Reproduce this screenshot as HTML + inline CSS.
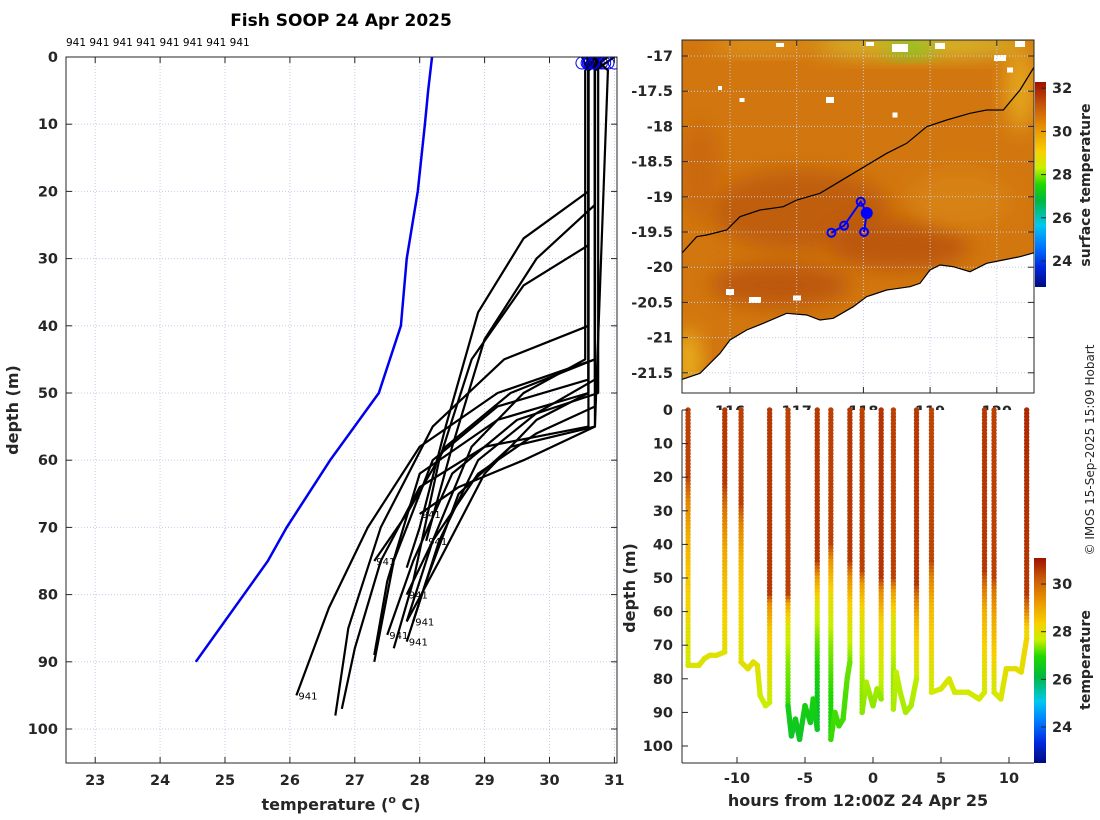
<!DOCTYPE html>
<html><head><meta charset="utf-8">
<style>
html,body{margin:0;padding:0;background:#fff;}
svg{display:block;font-family:"DejaVu Sans","Liberation Sans",sans-serif;}
.tk{font-weight:bold;font-size:14.5px;fill:#262626;}
.lb{font-weight:bold;font-size:16px;fill:#262626;}
</style></head>
<body>
<svg id="fig" width="1100" height="820" viewBox="0 0 1100 820" xmlns="http://www.w3.org/2000/svg">
<defs>
<linearGradient id="cbTop" x1="0" y1="1" x2="0" y2="0">
<stop offset="0" stop-color="#000a80"/><stop offset="0.1" stop-color="#0028e0"/><stop offset="0.2" stop-color="#0078ff"/><stop offset="0.3" stop-color="#00c8f0"/><stop offset="0.42" stop-color="#00b840"/><stop offset="0.5" stop-color="#20d800"/><stop offset="0.58" stop-color="#c8f000"/><stop offset="0.66" stop-color="#f8d000"/><stop offset="0.78" stop-color="#e89000"/><stop offset="0.88" stop-color="#c85a08"/><stop offset="1" stop-color="#a01000"/>
</linearGradient>
<linearGradient id="cbBot" x1="0" y1="1" x2="0" y2="0">
<stop offset="0" stop-color="#000a80"/><stop offset="0.1" stop-color="#0028e0"/><stop offset="0.2" stop-color="#0078ff"/><stop offset="0.3" stop-color="#00c8f0"/><stop offset="0.42" stop-color="#00b840"/><stop offset="0.52" stop-color="#20d800"/><stop offset="0.6" stop-color="#c8f000"/><stop offset="0.68" stop-color="#f8d000"/><stop offset="0.8" stop-color="#e89000"/><stop offset="0.9" stop-color="#c85a08"/><stop offset="1" stop-color="#a01000"/>
</linearGradient>
<clipPath id="mapClip"><rect x="682" y="40" width="352" height="353"/></clipPath>
<clipPath id="leftClip"><rect x="66" y="57" width="551" height="706"/></clipPath>
<filter id="blur" x="-50%" y="-50%" width="200%" height="200%"><feGaussianBlur stdDeviation="10"/></filter>
</defs>
<g id="left"></g>
<g id="map"></g>
<g id="bottom"></g>
<g id="misc"></g>
</svg>
<script>
// ---------- DATA ----------
const climTemps = [28.19,28.13,28.08,27.97,27.8,27.71,27.37,26.62,25.95,25.66,24.55];
const climDepths = [0,5,10,20,30,40,50,60,70,75,90];
const profTemps = [
 [30.6,30.6,29.6,28.9,28.4,28.0,27.8],[30.7,30.7,29.8,29.0,28.5,28.1],
 [30.6,30.6,29.6,28.8,28.3,27.9,27.6],[30.7,30.7,29.4,28.6,28.1,27.8],
 [30.6,30.6,29.0,28.0,27.4,27.0,26.8],[30.7,30.7,29.2,28.0,27.2,26.6,26.1],
 [30.6,30.6,29.3,28.2,27.4,26.9,26.7],[30.7,30.7,29.4,28.4,27.8,27.3],
 [30.6,30.6,29.2,28.2,27.6,27.3],[30.75,30.75,29.5,28.5,27.9,27.5],
 [30.6,30.6,29.2,28.0,27.5,27.3],[30.7,30.7,29.8,28.9,28.2,27.8],
 [30.55,30.55,29.6,28.8,28.2,27.8],[30.7,30.7,29.8,28.9,28.3,27.9],
 [30.6,30.6,29.8,29.0,28.3,27.8],[30.9,30.7,29.6,28.6,28.0]
];
const profDepths = [
 [0,20,27,38,55,70,76],[0,22,30,42,58,72],
 [0,28,34,45,60,78,88],[0,55,58,65,78,87],
 [0,55,58,64,75,88,97],[0,45,50,58,70,82,95],
 [0,40,45,55,70,85,98],[0,45,50,58,68,75],
 [0,48,52,60,75,90],[0,50,54,62,75,86],
 [0,50,54,62,78,89],[0,52,56,62,72,80],
 [0,45,50,58,72,84],[0,48,53,60,72,84],
 [0,50,54,62,75,84],[0,55,60,64,68]
];
const surfTemps = [30.5,30.6,30.62,30.66,30.7,30.75,30.8,30.85,30.62,30.7,30.9,30.66,30.72,31.0,30.58,30.68];
const bottomHours = [
 [-13.6,-12.8,-12.4,-12.0,-11.5,-10.9],
 [-9.7,-9.2,-8.8,-8.5,-8.3,-7.9,-7.6],
 [-6.25,-6.0,-5.7,-5.4,-5.0,-4.6,-4.4,-4.1],
 [-3.1,-2.8,-2.5,-2.2,-1.9,-1.7],
 [-0.8,-0.5,0.0,0.3,0.6],
 [1.5,1.7,2.0,2.4,2.8,3.2],
 [4.3,5.0,5.6,6.0,7.0,7.8,8.2],
 [8.9,9.4,9.8,10.5,10.9,11.3]
];
const bottomDepths = [
 [76,76,74,73,73,72],
 [75,77,75,76,85,88,87],
 [88,97,92,98,88,93,86,95],
 [98,90,94,92,80,75],
 [90,81,88,83,86],
 [89,78,84,90,88,80],
 [84,83,80,84,84,86,84],
 [84,86,77,77,78,68]
];
const trackLon = [117.52,117.71,117.96,118.05,118.01];
const trackLat = [-19.51,-19.41,-19.07,-19.23,-19.50];
const leftXTicks = [23,24,25,26,27,28,29,30,31];
const depthTicks = [0,10,20,30,40,50,60,70,80,90,100];
const latTicks = [-17,-17.5,-18,-18.5,-19,-19.5,-20,-20.5,-21,-21.5];
const lonTicks = [116,117,118,119,120];
const hourTicks = [-10,-5,0,5,10];
const cbTopTicks = [24,26,28,30,32];
const cbBotTicks = [24,26,28,30];

// ---------- SCALES ----------
const X = t => 66 + (t - 22.55) * 64.9;
const Y = d => 57 + d * 6.72;
const LX = lon => 730 + (lon - 116) * 66.7;
const LY = lat => 56 + (-17 - lat) * 70.4;
const HX = h => 873 + h * 13.6;
const HY = d => 410 + d * 3.36;
const cbTopY = t => 261 - (t - 24) * 21.6;
const cbBotY = t => 727 - (t - 24) * 23.83;

const NS = "http://www.w3.org/2000/svg";
function mk(parent, tag, attrs, text) {
  const e = document.createElementNS(NS, tag);
  for (const k in attrs) e.setAttribute(k, attrs[k]);
  if (text !== undefined) e.textContent = text;
  parent.appendChild(e);
  return e;
}
const cmapStops = [[22.5,[0,10,128]],[23.4,[0,40,224]],[24.3,[0,120,255]],[25.1,[0,200,240]],[26.1,[0,184,64]],[26.9,[32,216,0]],[27.7,[200,240,0]],[28.4,[248,208,0]],[29.4,[232,144,0]],[30.3,[200,90,8]],[31.2,[160,16,0]]];
function cmap(t) {
  if (t <= cmapStops[0][0]) return 'rgb(' + cmapStops[0][1] + ')';
  for (let i = 1; i < cmapStops.length; i++) {
    if (t <= cmapStops[i][0]) {
      const a = cmapStops[i-1], b = cmapStops[i];
      const f = (t - a[0]) / (b[0] - a[0]);
      return 'rgb(' + a[1].map((v, j) => Math.round(v + (b[1][j] - v) * f)).join(',') + ')';
    }
  }
  return 'rgb(' + cmapStops[cmapStops.length-1][1] + ')';
}
function profAt(i, d) {
  const ts = profTemps[i], ds = profDepths[i];
  if (d <= ds[0]) return ts[0];
  for (let k = 1; k < ds.length; k++) if (d <= ds[k]) return ts[k-1] + (ts[k]-ts[k-1])*(d-ds[k-1])/(ds[k]-ds[k-1]);
  return ts[ts.length-1];
}

// ---------- LEFT PLOT ----------
const L = document.getElementById('left');
leftXTicks.forEach(t => {
  const g = mk(L, 'line', {x1:X(t), x2:X(t), y1:57, y2:763, stroke:'#c4cbe8', 'stroke-width':1, 'stroke-dasharray':'1,2'});
  
  
  mk(L, 'line', {x1:X(t), x2:X(t), y1:763, y2:757, stroke:'#262626'});
  mk(L, 'line', {x1:X(t), x2:X(t), y1:57, y2:63, stroke:'#262626'});
  const lt = mk(L, 'text', {x:X(t), y:785, 'text-anchor':'middle', class:'tk'}, t);
  
  
});
depthTicks.forEach(d => {
  const g = mk(L, 'line', {x1:66, x2:617, y1:Y(d), y2:Y(d), stroke:'#c4cbe8', 'stroke-width':1, 'stroke-dasharray':'1,2'});
  
  
  mk(L, 'line', {x1:66, x2:72, y1:Y(d), y2:Y(d), stroke:'#262626'});
  mk(L, 'line', {x1:617, x2:611, y1:Y(d), y2:Y(d), stroke:'#262626'});
  const lt = mk(L, 'text', {x:58, y:Y(d)+5, 'text-anchor':'end', class:'tk'}, d);
  
  
});
const LP = mk(L, 'g', {'clip-path':'url(#leftClip)'});


const clim = mk(LP, 'polyline', {points: climDepths.map((d,i)=>X(climTemps[i])+','+Y(d)).join(' '), fill:'none', stroke:'#0000ee', 'stroke-width':2.5});


profTemps.forEach((ts, i) => {
  const ds = profDepths[i];
  const pts = [[surfTemps[i], 0]].concat(ts.map((t,k)=>[t, ds[k] === 0 ? 2 : ds[k]]));
  const pl = mk(LP, 'polyline', {points: pts.map(p=>X(p[0])+','+Y(p[1])).join(' '), fill:'none', stroke:'#000', 'stroke-width':2.2, 'stroke-linejoin':'round'});
  
  
  const c = mk(LP, 'circle', {cx:X(surfTemps[i]), cy:Y(0.9), r:6, fill:'none', stroke:'#0000ff', 'stroke-width':1});
  
  
  if (i % 2 === 1) {
    const last = ts.length-1;
    const tl = mk(L, 'text', {x:X(ts[last])+2, y:Y(ds[last])+4, 'font-size':'10px', fill:'#000'}, '941');
    
    
  }
});
mk(L, 'rect', {x:66, y:57, width:551, height:706, fill:'none', stroke:'#262626', 'stroke-width':1});
const title = mk(L, 'text', {x:341, y:26, 'text-anchor':'middle', 'font-weight':'bold', 'font-size':'17px', fill:'#000'}, 'Fish SOOP 24 Apr 2025');


const ids = mk(L, 'text', {x:66, y:46, 'font-size':'10.5px', fill:'#000'}, '941 941 941 941 941 941 941 941');


const yl = mk(L, 'text', {x:0, y:0, transform:'translate(18,410) rotate(-90)', 'text-anchor':'middle', class:'lb'}, 'depth (m)');


const xl = mk(L, 'text', {x:341, y:810, 'text-anchor':'middle', class:'lb'});


xl.innerHTML = 'temperature (<tspan dy="-7" font-size="11px">o</tspan><tspan dy="7"> C)</tspan>';

// ---------- MAP ----------
const M = document.getElementById('map');
const MG = mk(M, 'g', {'clip-path':'url(#mapClip)'});


mk(MG, 'rect', {x:682, y:40, width:352, height:353, fill:'#d2770f'});
const blobs = [[760,45,50,8,'#e0a020'],[920,45,110,12,'#d8c830'],[910,48,25,8,'#60d020'],[1020,90,14,40,'#e8b020'],[688,360,12,30,'#f0c020'],[800,210,90,40,'#bc5a0c'],[900,245,70,25,'#b8520a'],[780,285,70,22,'#b8520a'],[700,170,20,50,'#c8660c'],[960,200,50,30,'#d88418']];
blobs.forEach(b => mk(MG, 'ellipse', {cx:b[0], cy:b[1], rx:b[2], ry:b[3], fill:b[4], filter:'url(#blur)', opacity:0.85}));
const whites = [[830,100,8,6],[895,115,5,5],[742,100,5,4],[900,48,16,8],[940,46,10,6],[1000,58,12,6],[1020,44,10,6],[780,45,8,4],[870,44,8,4],[755,300,12,6],[730,292,8,6],[797,298,8,5],[720,88,4,4],[1010,70,6,5]];
whites.forEach(w => mk(MG, 'rect', {x:w[0]-w[2]/2, y:w[1]-w[3]/2, width:w[2], height:w[3], fill:'#fff'}));
const coastX = [682.3,700,720,730,746.7,763.3,786.7,806.7,820,833.3,853.3,866.7,886.7,910,920,930,940,953.3,970,986.7,1003.3,1020,1034.3];
const coastY = [379.3,373.3,353.3,340,330,323.3,313.3,315,320,318.3,306.7,296.7,290,286.7,283.3,270,265,266.7,271.7,263.3,260,256.7,252.7];
const coastPts = coastX.map((x,i)=>x+','+coastY[i]).join(' ');
const land = mk(MG, 'polygon', {points: coastPts + ' 1034,393 682,393', fill:'#fff'});


lonTicks.forEach(l => mk(MG, 'line', {x1:LX(l), x2:LX(l), y1:40, y2:393, stroke:'#c4cbe8', 'stroke-dasharray':'1,2'}));
latTicks.forEach(l => mk(MG, 'line', {x1:682, x2:1034, y1:LY(l), y2:LY(l), stroke:'#c4cbe8', 'stroke-dasharray':'1,2'}));
mk(MG, 'polyline', {points: coastPts, fill:'none', stroke:'#000', 'stroke-width':1.2});
const isoX = [682.3,696.7,706.7,726.7,740,760,783.3,796.7,820,853.3,886.7,906.7,926.7,946.7,970,986.7,1003.3,1020,1034.3];
const isoY = [252.7,236.7,235,230,216.7,210,206.7,200,193.3,173.3,153.3,143.3,126.7,120,113.3,110,110,90,66.7];
const iso = mk(MG, 'polyline', {points: isoX.map((x,i)=>x+','+isoY[i]).join(' '), fill:'none', stroke:'#000', 'stroke-width':1.2});


const tr = mk(MG, 'polyline', {points: trackLon.map((l,i)=>LX(l)+','+LY(trackLat[i])).join(' '), fill:'none', stroke:'#0000ff', 'stroke-width':2});


trackLon.forEach((l,i) => {
  const c = mk(MG, 'circle', {cx:LX(l), cy:LY(trackLat[i]), r:4, fill:'none', stroke:'#0000ff', 'stroke-width':2});
  
  
});
mk(MG, 'circle', {cx:LX(trackLon[3]), cy:LY(trackLat[3]), r:6, fill:'#0000ff'});
mk(M, 'rect', {x:682, y:40, width:352, height:353, fill:'none', stroke:'#262626'});
latTicks.forEach(l => {
  mk(M, 'line', {x1:682, x2:688, y1:LY(l), y2:LY(l), stroke:'#262626'});
  mk(M, 'line', {x1:1034, x2:1028, y1:LY(l), y2:LY(l), stroke:'#262626'});
  const t = mk(M, 'text', {x:673, y:LY(l)+5, 'text-anchor':'end', class:'tk'}, l);
  
  
});
lonTicks.forEach(l => {
  mk(M, 'line', {x1:LX(l), x2:LX(l), y1:40, y2:46, stroke:'#262626'});
  mk(M, 'line', {x1:LX(l), x2:LX(l), y1:393, y2:387, stroke:'#262626'});
  const t = mk(M, 'text', {x:LX(l), y:416, 'text-anchor':'middle', class:'tk'}, l);
  
  
});
const cb1 = mk(M, 'rect', {x:1035, y:82, width:11, height:205, fill:'url(#cbTop)'});


cbTopTicks.forEach(t => {
  mk(M, 'line', {x1:1041, x2:1046, y1:cbTopY(t), y2:cbTopY(t), stroke:'#262626'});
  mk(M, 'text', {x:1052, y:cbTopY(t)+5, class:'tk'}, t);
});
const st = mk(M, 'text', {x:0, y:0, transform:'translate(1090,185) rotate(-90)', 'text-anchor':'middle', 'font-weight':'bold', 'font-size':'14px', fill:'#262626'}, 'surface temperature');



// ---------- BOTTOM PLOT ----------
const B = document.getElementById('bottom');
mk(B, 'rect', {x:682, y:410, width:352, height:353, fill:'#fff'});
const BG = mk(B, 'g', {});


function dot(h, d, t) {
  mk(BG, 'circle', {cx:HX(h), cy:HY(d), r:2.7, fill:cmap(t)});
}
bottomHours.forEach((hs, i) => {
  const ds = bottomDepths[i];
  const pd = 2*i, pu = 2*i+1;
  for (let d = 0; d <= ds[0]; d += 1) dot(hs[0], d, profAt(pd, d));
  for (let d = 0; d <= ds[ds.length-1]; d += 1) dot(hs[hs.length-1], d, profAt(pu, d));
  for (let k = 1; k < hs.length; k++) {
    const n = Math.max(2, Math.ceil(Math.abs(HX(hs[k])-HX(hs[k-1]))/2 + Math.abs(HY(ds[k])-HY(ds[k-1]))/2));
    for (let j = 0; j <= n; j++) {
      const f = j/n, h = hs[k-1]+(hs[k]-hs[k-1])*f, d = ds[k-1]+(ds[k]-ds[k-1])*f;
      dot(h, d, (profAt(pd, d) + profAt(pu, d))/2);
    }
  }
});
mk(B, 'line', {x1:682, x2:682, y1:410, y2:763, stroke:'#262626'});
mk(B, 'line', {x1:682, x2:1034, y1:763, y2:763, stroke:'#262626'});
depthTicks.forEach(d => {
  mk(B, 'line', {x1:682, x2:688, y1:HY(d), y2:HY(d), stroke:'#262626'});
  const t = mk(B, 'text', {x:673, y:HY(d)+5, 'text-anchor':'end', class:'tk'}, d);
  
  
});
hourTicks.forEach(h => {
  mk(B, 'line', {x1:HX(h), x2:HX(h), y1:763, y2:757, stroke:'#262626'});
  const t = mk(B, 'text', {x:HX(h), y:783, 'text-anchor':'middle', class:'tk'}, h);
  
  
});
const byl = mk(B, 'text', {x:0, y:0, transform:'translate(635,588) rotate(-90)', 'text-anchor':'middle', class:'lb'}, 'depth (m)');


const bxl = mk(B, 'text', {x:858, y:806, 'text-anchor':'middle', class:'lb'}, 'hours from 12:00Z 24 Apr 25');


const cb2 = mk(B, 'rect', {x:1034, y:558, width:12, height:205, fill:'url(#cbBot)'});


cbBotTicks.forEach(t => {
  mk(B, 'line', {x1:1041, x2:1046, y1:cbBotY(t), y2:cbBotY(t), stroke:'#262626'});
  mk(B, 'text', {x:1052, y:cbBotY(t)+5, class:'tk'}, t);
});
const tt = mk(B, 'text', {x:0, y:0, transform:'translate(1090,660) rotate(-90)', 'text-anchor':'middle', 'font-weight':'bold', 'font-size':'14px', fill:'#262626'}, 'temperature');



// ---------- MISC ----------
const cp = mk(document.getElementById('misc'), 'text', {x:0, y:0, transform:'translate(1094,450) rotate(-90)', 'text-anchor':'middle', 'font-size':'12px', fill:'#262626'}, '© IMOS 15-Sep-2025 15:09 Hobart');


</script>
</body></html>
